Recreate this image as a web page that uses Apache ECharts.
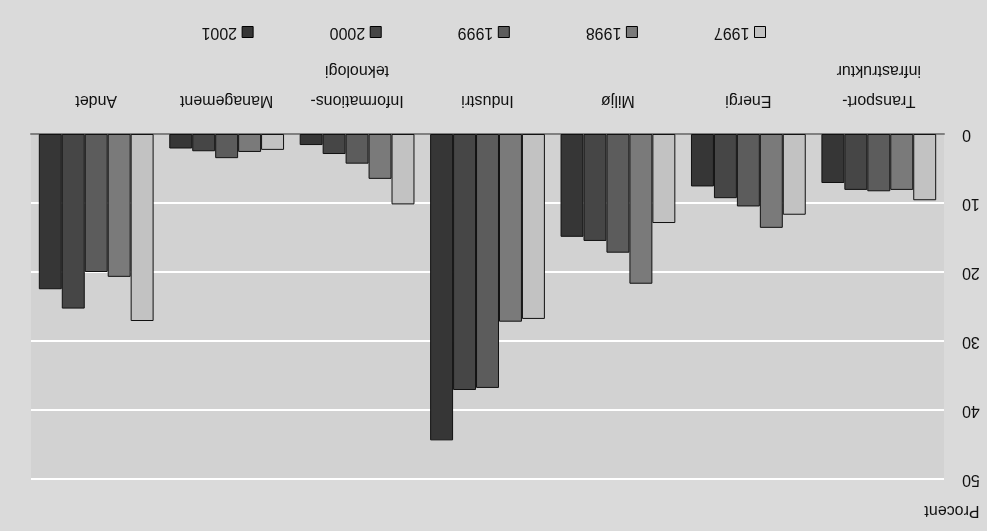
<!DOCTYPE html>
<html>
<head>
<meta charset="utf-8">
<script src="https://cdn.jsdelivr.net/npm/echarts@6/dist/echarts.min.js"></script>
<style>
html,body{margin:0;padding:0;background:#dadada;}
#wrap{position:absolute;left:0;top:0;width:987px;height:531px;transform:rotate(180deg);transform-origin:50% 50%;}
#chart{width:987px;height:531px;}
</style>
</head>
<body>
<div id="wrap"><div id="chart"></div></div>
<script>
const categories = ['Transport-\ninfrastruktur', 'Energi', 'Miljø', 'Industri', 'Informations-\nteknologi', 'Management', 'Andet'];
const years = ['1997', '1998', '1999', '2000', '2001'];
const v1997 = [9.6, 11.7, 12.9, 26.8, 10.2, 2.3, 27.1];
const v1998 = [8.1, 13.6, 21.7, 27.2, 6.5, 2.6, 20.7];
const v1999 = [8.3, 10.5, 17.2, 36.8, 4.3, 3.5, 20.0];
const v2000 = [8.1, 9.3, 15.5, 37.1, 2.9, 2.5, 25.3];
const v2001 = [7.1, 7.6, 14.9, 44.4, 1.6, 2.1, 22.5];
const yTicks = [0, 10, 20, 30, 40, 50];

const seriesValues = [v1997, v1998, v1999, v2000, v2001];
const colors = ['#c2c2c2', '#7a7a7a', '#5c5c5c', '#464646', '#363636'];

const chart = echarts.init(document.getElementById('chart'));
const fontFamily = '"Liberation Sans", Arial, sans-serif';
chart.setOption({
  animation: false,
  backgroundColor: 'transparent',
  textStyle: { fontFamily: fontFamily },
  grid: { left: 43, right: 31, top: 52, bottom: 134, show: true, backgroundColor: '#d2d2d2', borderWidth: 0 },
  legend: {
    data: years,
    left: 216, top: 486,
    itemWidth: 11, itemHeight: 11, itemGap: 76,
    icon: 'rect',
    textStyle: { fontSize: 16, color: '#111', fontFamily: fontFamily },
    itemStyle: { borderColor: '#000', borderWidth: 1 }
  },
  xAxis: {
    type: 'category',
    data: categories,
    axisLine: { show: true, lineStyle: { color: '#808080', width: 2 } },
    axisTick: { show: false },
    axisLabel: { interval: 0, margin: 19, fontSize: 16, lineHeight: 30, color: '#111', fontFamily: fontFamily }
  },
  yAxis: {
    type: 'value',
    min: yTicks[0], max: yTicks[yTicks.length - 1], interval: 10,
    name: 'Procent',
    nameLocation: 'end',
    nameGap: 23,
    nameTextStyle: { fontSize: 16, color: '#111', align: 'center', padding: [0, 16, 0, 0], fontFamily: fontFamily },
    axisLine: { show: false },
    axisTick: { show: false },
    axisLabel: { margin: 18, fontSize: 16, color: '#111', fontFamily: fontFamily },
    splitLine: { show: true, lineStyle: { color: '#ffffff', width: 2 } }
  },
  series: years.map((y, i) => ({
    name: y,
    type: 'bar',
    data: seriesValues[i],
    barGap: '0%',
    barCategoryGap: '12%',
    itemStyle: { color: colors[i], borderColor: '#111', borderWidth: 1 }
  }))
});
</script>
</body>
</html>
